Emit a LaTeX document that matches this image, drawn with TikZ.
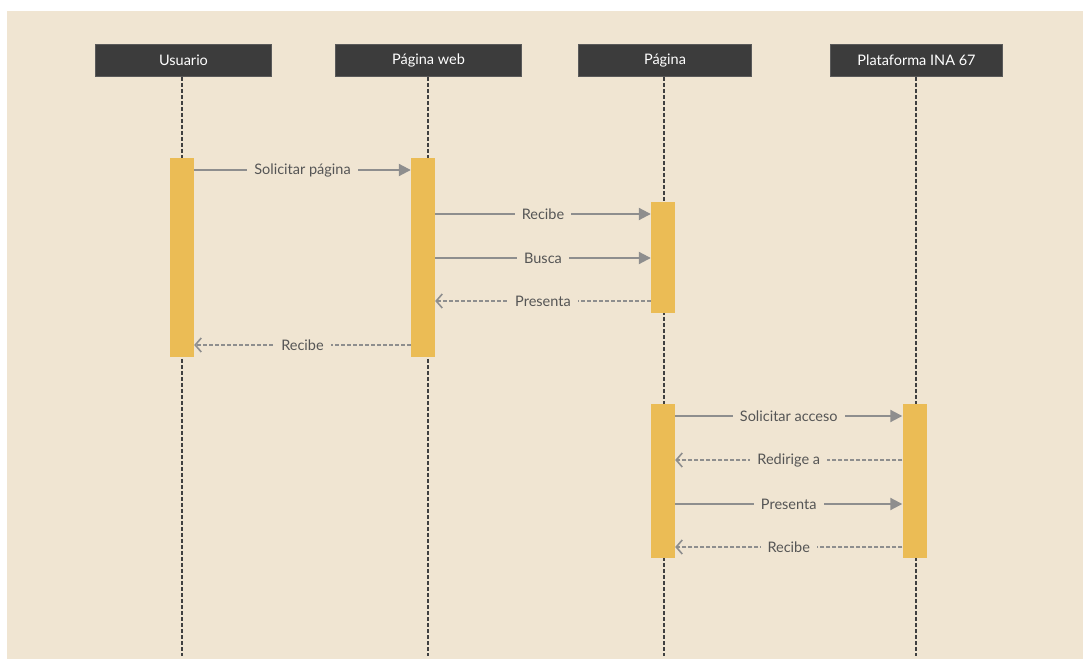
\documentclass[tikz,border=0pt]{standalone}
\usepackage{fontspec}
\setmainfont{Lato}
\usetikzlibrary{arrows.meta,calc}
\definecolor{bgbeige}{HTML}{F0E5D2}
\definecolor{hdrfill}{HTML}{3C3C3C}
\definecolor{hdrline}{HTML}{5A5A5A}
\definecolor{barfill}{HTML}{EBBC55}
\definecolor{msgcol}{HTML}{8E8E8E}
\definecolor{txtcol}{HTML}{555555}
\definecolor{lifecol}{HTML}{404040}
\begin{document}
\begin{tikzpicture}[x=1pt,y=-1pt,
  hdr/.style={draw=hdrline,line width=1pt,fill=hdrfill,text=white,minimum height=32pt,inner sep=0pt,font=\fontsize{14.5}{16}\selectfont,anchor=north west},
  actbar/.style={fill=barfill,draw=none,minimum width=24pt,inner sep=0pt,anchor=north},
  life/.style={draw=lifecol,line width=1.5pt,dash pattern=on 4pt off 2pt},
  msg/.style={draw=msgcol,line width=2pt,-{Triangle[length=12pt,width=12pt]}},
  ret/.style={draw=msgcol,line width=1.6pt,dash pattern=on 4pt off 2pt,-{Straight Barb[length=6pt,width=14pt,line width=1.6pt]}},
  lbl/.style={fill=bgbeige,text=txtcol,font=\fontsize{14.5}{16}\selectfont,inner xsep=7pt,inner ysep=2pt}
]
\useasboundingbox (0,0) rectangle (1088,660);
\fill[white] (0,0) rectangle (1088,660);
\fill[bgbeige] (7,11) rectangle (1083,659);

% headers
\node[hdr,minimum width=176pt] (h1) at (95,44) {Usuario};
\node[hdr,minimum width=186pt] (h2) at (335,44) {Página web};
\node[hdr,minimum width=173pt] (h3) at (578,44) {Página};
\node[hdr,minimum width=172pt] (h4) at (830,44) {Plataforma INA 67};

% lifeline ends
\coordinate (e1) at (182,656);
\coordinate (e2) at (428,656);
\coordinate (e3) at (664,656);
\coordinate (e4) at (916,656);
\draw[life] (h1.south -| e1) -- (e1);
\draw[life] (h2.south -| e2) -- (e2);
\draw[life] (h3.south -| e3) -- (e3);
\draw[life] (h4.south -| e4) -- (e4);

% activation bars
\node[actbar,minimum height=199pt] (a1) at (182,158) {};
\node[actbar,minimum height=199pt] (a2) at (423,158) {};
\node[actbar,minimum height=111pt] (a3) at (663,202) {};
\node[actbar,minimum height=154pt] (a4) at (663,404) {};
\node[actbar,minimum height=154pt] (a5) at (914.5,404) {};

% message rows
\coordinate (y1) at (0,170);
\coordinate (y2) at (0,214);
\coordinate (y3) at (0,258);
\coordinate (y4) at (0,301);
\coordinate (y5) at (0,345);
\coordinate (y6) at (0,416);
\coordinate (y7) at (0,460);
\coordinate (y8) at (0,504);
\coordinate (y9) at (0,547);

\draw[msg] (a1.east |- y1) -- node[lbl] {Solicitar página} (a2.west |- y1);
\draw[msg] (a2.east |- y2) -- node[lbl] {Recibe} (a3.west |- y2);
\draw[msg] (a2.east |- y3) -- node[lbl] {Busca} (a3.west |- y3);
\draw[ret] (a3.west |- y4) -- node[lbl] {Presenta} (a2.east |- y4);
\draw[ret] (a2.west |- y5) -- node[lbl] {Recibe} (a1.east |- y5);

\draw[msg] (a4.east |- y6) -- node[lbl] {Solicitar acceso} (a5.west |- y6);
\draw[ret] (a5.west |- y7) -- node[lbl] {Redirige a} (a4.east |- y7);
\draw[msg] (a4.east |- y8) -- node[lbl] {Presenta} (a5.west |- y8);
\draw[ret] (a5.west |- y9) -- node[lbl] {Recibe} (a4.east |- y9);
\end{tikzpicture}
\end{document}
